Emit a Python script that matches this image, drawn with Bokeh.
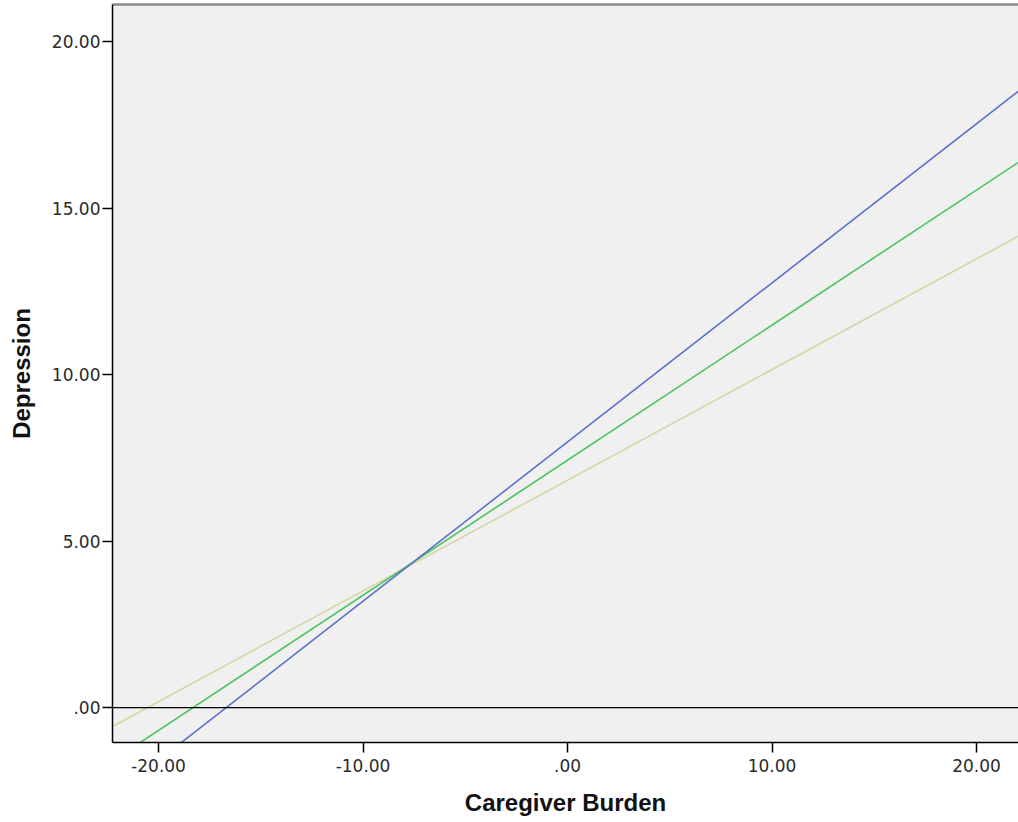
from bokeh.plotting import figure
from bokeh.models import Range1d, Span, LinearAxis, FixedTicker, CustomJSTickFormatter
from bokeh.embed import file_html
from bokeh.resources import INLINE

# Data (line endpoints at the plot edges)
burden = [-22.25, 22.05]
depr_blue = [-2.66, 18.52]
depr_green = [-1.60, 16.38]
depr_tan = [-0.57, 14.16]

x_ticks = [-20, -10, 0, 10, 20]
y_ticks = [0, 5, 10, 15, 20]

p = figure(width=1018, height=822, output_backend="svg", toolbar_location=None,
           x_range=Range1d(-22.25, 22.05), y_range=Range1d(-1.05, 21.12),
           min_border_left=112, min_border_right=0, min_border_top=4, min_border_bottom=80)
p.background_fill_color = "#f0f0f0"
p.border_fill_color = "white"
p.outline_line_color = None
p.grid.visible = False

fmt = CustomJSTickFormatter(code="""
const s = tick.toFixed(2);
if (s === '0.00' || s === '-0.00') return '.00';
return s;
""")

for ax in (p.xaxis[0], p.yaxis[0]):
    ax.formatter = fmt
    ax.axis_line_color = "black"
    ax.axis_line_width = 1.5
    ax.major_tick_line_color = "black"
    ax.major_tick_line_width = 1.5
    ax.major_tick_out = 10
    ax.major_tick_in = 0
    ax.minor_tick_out = 0
    ax.minor_tick_in = 0
    ax.major_label_text_font = "DejaVu Sans"
    ax.major_label_text_font_size = "17px"
    ax.major_label_text_color = "#2a2a2a"
    ax.axis_label_text_font = "Liberation Sans"
    ax.axis_label_text_font_style = "bold"
    ax.axis_label_text_font_size = "24px"
    ax.axis_label_text_color = "#111111"

p.xaxis[0].ticker = FixedTicker(ticks=x_ticks)
p.yaxis[0].ticker = FixedTicker(ticks=y_ticks)
p.xaxis[0].axis_label = "Caregiver Burden"
p.yaxis[0].axis_label = "Depression"
p.xaxis[0].major_label_standoff = 6
p.yaxis[0].major_label_standoff = 2
p.xaxis[0].axis_label_standoff = 14
p.yaxis[0].axis_label_standoff = 14

top = LinearAxis(ticker=FixedTicker(ticks=[]), major_label_text_font_size="0px",
                 axis_line_color="#888888", axis_line_width=2.5,
                 major_tick_out=0, minor_tick_out=0, major_tick_in=0, minor_tick_in=0)
p.add_layout(top, "above")

p.add_layout(Span(location=0, dimension="width", line_color="black", line_width=1.2))

p.line(burden, depr_tan, line_color="#d8d4a6", line_width=1.6)
p.line(burden, depr_green, line_color="#4cc45e", line_width=1.6)
p.line(burden, depr_blue, line_color="#5b70c8", line_width=1.6)

open("out.html", "w").write(file_html(p, INLINE))
